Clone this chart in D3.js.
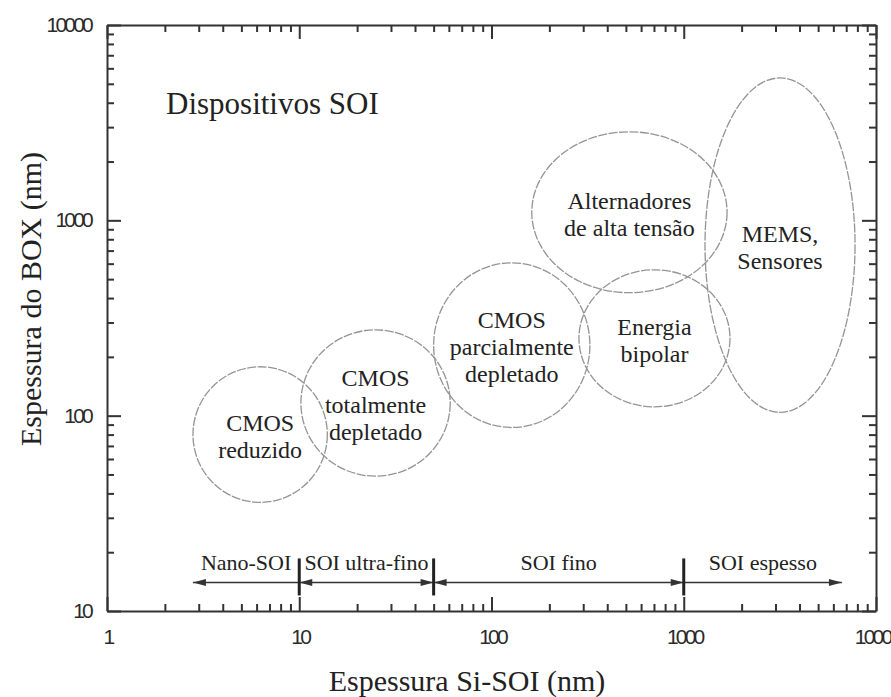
<!DOCTYPE html>
<html>
<head>
<meta charset="utf-8">
<script src="https://cdn.jsdelivr.net/npm/d3@7"></script>
<style>
  html, body { margin: 0; padding: 0; background: #fff; }
  svg { display: block; }
</style>
</head>
<body>
<svg id="chart" width="891" height="697"></svg>
<script>
// ---------------- DATA ----------------
const xDomain = [1, 10000];
const yDomain = [10, 10000];
const xTickValues = [1, 10, 100, 1000, 10000];
const xTickLabels = ["1", "10", "100", "1000", "10000"];
const yTickValues = [10, 100, 1000, 10000];
const yTickLabels = ["10", "100", "1000", "10000"];

// device regions: Si-SOI thickness range (nm) and BOX thickness range (nm)
const regionNames = [
  ["CMOS", "reduzido"],
  ["CMOS", "totalmente", "depletado"],
  ["CMOS", "parcialmente", "depletado"],
  ["Alternadores", "de alta tensão"],
  ["Energia", "bipolar"],
  ["MEMS,", "Sensores"]
];
const regionSiMin  = [2.8, 10.2, 50, 162, 285, 1290];
const regionSiMax  = [14, 61, 325, 1680, 1740, 7780];
const regionBoxMin = [36, 49, 87, 426, 111, 104];
const regionBoxMax = [178, 275, 606, 2840, 558, 5360];

// SOI classes along the Si-SOI axis
const classNames  = ["Nano-SOI", "SOI ultra-fino", "SOI fino", "SOI espesso"];
const classFrom   = [10, 10, 50, 1000];
const classTo     = [2.8, 50, 1000, 6650];
const classArrowFrom = [false, true, true, false];
const classArrowTo   = [true, true, true, true];
const classBoundaries = [10, 50, 1000];
const classRowBox = 14; // BOX value (nm) at which the class arrows are drawn

const title = "Dispositivos SOI";
const xTitle = "Espessura Si-SOI (nm)";
const yTitle = "Espessura do BOX (nm)";

// ---------------- CHART ----------------
const svg = d3.select("#chart");
const pLeft = 107, pRight = 876, pTop = 25, pBottom = 611;
const x = d3.scaleLog().domain(xDomain).range([pLeft, pRight]);
const y = d3.scaleLog().domain(yDomain).range([pBottom, pTop]);

const axisColor = "#333";
const serif = "'Liberation Serif', 'Times New Roman', Times, serif";
const sans = "'Liberation Sans', Arial, sans-serif";

const xTicks = x.ticks();
const yTicks = y.ticks();
const isMajor = v => Math.abs(Math.log10(v) - Math.round(Math.log10(v))) < 1e-9;

function styleAxis(g, horizontal, sign) {
  g.select(".domain").attr("stroke", axisColor).attr("stroke-width", 2);
  g.selectAll(".tick line")
    .attr("stroke", axisColor)
    .attr("stroke-width", 2)
    .each(function(d) {
      const len = isMajor(d) ? 14 : 7;
      if (horizontal) d3.select(this).attr("y2", sign * len);
      else d3.select(this).attr("x2", sign * len);
    });
  g.selectAll(".tick text").remove();
}

svg.append("g").attr("transform", `translate(0,${pBottom})`)
  .call(d3.axisBottom(x).tickValues(xTicks).tickFormat("").tickSizeOuter(0))
  .call(g => styleAxis(g, true, -1));
svg.append("g").attr("transform", `translate(0,${pTop})`)
  .call(d3.axisTop(x).tickValues(xTicks).tickFormat("").tickSizeOuter(0))
  .call(g => styleAxis(g, true, 1));
svg.append("g").attr("transform", `translate(${pLeft},0)`)
  .call(d3.axisLeft(y).tickValues(yTicks).tickFormat("").tickSizeOuter(0))
  .call(g => styleAxis(g, false, 1));
svg.append("g").attr("transform", `translate(${pRight},0)`)
  .call(d3.axisRight(y).tickValues(yTicks).tickFormat("").tickSizeOuter(0))
  .call(g => styleAxis(g, false, -1));

// tick labels
svg.append("g").selectAll("text").data(xTickValues).join("text")
  .attr("x", d => x(d) + 1).attr("y", 644)
  .attr("text-anchor", "middle")
  .attr("font-family", sans).attr("font-size", 21)
  .attr("letter-spacing", "-2.8px")
  .attr("fill", "#2a2a2a")
  .text((d, i) => xTickLabels[i]);
svg.append("g").selectAll("text").data(yTickValues).join("text")
  .attr("x", 91).attr("y", d => y(d) + 7)
  .attr("text-anchor", "end")
  .attr("font-family", sans).attr("font-size", 21)
  .attr("letter-spacing", "-2.8px")
  .attr("fill", "#2a2a2a")
  .text((d, i) => yTickLabels[i]);

// axis titles
svg.append("text")
  .attr("x", 467).attr("y", 691)
  .attr("text-anchor", "middle")
  .attr("font-family", serif).attr("font-size", 30)
  .attr("fill", "#222")
  .text(xTitle);
svg.append("text")
  .attr("transform", `translate(41,${(pTop + pBottom) / 2 - 19}) rotate(-90)`)
  .attr("text-anchor", "middle")
  .attr("font-family", serif).attr("font-size", 30)
  .attr("fill", "#222")
  .text(yTitle);

// chart inner title
svg.append("text")
  .attr("x", 166).attr("y", 114)
  .attr("font-family", serif).attr("font-size", 31)
  .attr("fill", "#222")
  .text(title);

// region ellipses
const regions = regionNames.map((n, i) => ({
  name: n,
  x0: regionSiMin[i], x1: regionSiMax[i],
  y0: regionBoxMin[i], y1: regionBoxMax[i]
}));
const rg = svg.append("g");
rg.selectAll("ellipse").data(regions).join("ellipse")
  .attr("cx", d => (x(d.x0) + x(d.x1)) / 2)
  .attr("cy", d => (y(d.y0) + y(d.y1)) / 2)
  .attr("rx", d => (x(d.x1) - x(d.x0)) / 2)
  .attr("ry", d => (y(d.y0) - y(d.y1)) / 2)
  .attr("fill", "none")
  .attr("stroke", "#949494")
  .attr("stroke-width", 1.3)
  .attr("stroke-dasharray", "9,1.5");

const lineH = 27;
rg.selectAll("text.region").data(regions).join("text")
  .attr("class", "region")
  .attr("text-anchor", "middle")
  .attr("font-family", serif).attr("font-size", 24)
  .attr("fill", "#222")
  .each(function(d) {
    const cx = (x(d.x0) + x(d.x1)) / 2;
    const cy = (y(d.y0) + y(d.y1)) / 2;
    const n = d.name.length;
    const startY = cy - (n - 1) * lineH / 2 + 10;
    d3.select(this).selectAll("tspan").data(d.name).join("tspan")
      .attr("x", cx)
      .attr("y", (t, j) => startY + j * lineH)
      .text(t => t);
  });

// SOI class arrows
const rowY = y(classRowBox);
const cg = svg.append("g");
const arrowLen = 13, arrowHalf = 3.5;
function arrowHead(tipX, dir) {
  const bx = tipX - dir * arrowLen;
  return `M${tipX},${rowY} L${bx},${rowY - arrowHalf} L${bx},${rowY + arrowHalf} Z`;
}
classNames.forEach((name, i) => {
  const a = x(classFrom[i]), b = x(classTo[i]);
  cg.append("line")
    .attr("x1", a).attr("x2", b).attr("y1", rowY).attr("y2", rowY)
    .attr("stroke", "#333").attr("stroke-width", 1.6);
  if (classArrowFrom[i]) {
    cg.append("path").attr("d", arrowHead(a, Math.sign(a - b))).attr("fill", "#333");
  }
  if (classArrowTo[i]) {
    cg.append("path").attr("d", arrowHead(b, Math.sign(b - a))).attr("fill", "#333");
  }
  const mid = Math.sqrt(classFrom[i] * classTo[i]);
  cg.append("text")
    .attr("x", x(mid)).attr("y", rowY - 12)
    .attr("text-anchor", "middle")
    .attr("font-family", serif).attr("font-size", 22)
    .attr("fill", "#222")
    .text(name);
});
cg.selectAll("line.bound").data(classBoundaries).join("line")
  .attr("class", "bound")
  .attr("x1", d => x(d)).attr("x2", d => x(d))
  .attr("y1", rowY - 24).attr("y2", rowY + 13)
  .attr("stroke", "#222").attr("stroke-width", 3);
</script>
</body>
</html>
